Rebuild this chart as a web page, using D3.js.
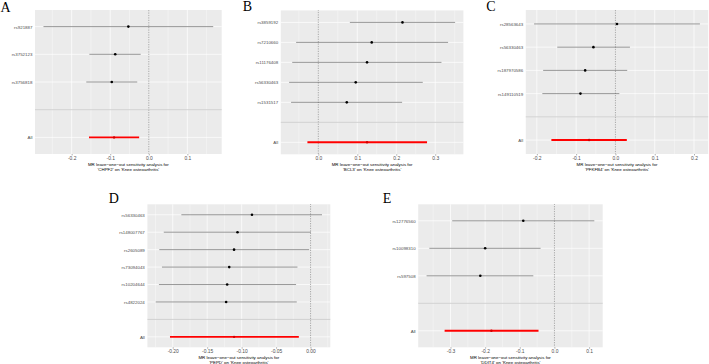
<!DOCTYPE html>
<html><head><meta charset="utf-8">
<script src="https://cdn.jsdelivr.net/npm/d3@7"></script>
<style>
html,body{margin:0;padding:0;background:#fff;}
svg{display:block;}
</style></head>
<body>
<svg id="chart" width="709" height="364"></svg>
<script>
// ---------------- DATA ----------------
const panelLetters = ["A", "B", "C", "D", "E"];
const exposures = ["CHPF2", "BCL3", "PFKFB4", "PEPD", "DDIT4"];
const outcomeName = "Knee osteoarthritis";

// Panel A
const snpsA = ["rs921887", "rs3752123", "rs3756818"];
const betaA = [-0.053, -0.087, -0.096];
const loA   = [-0.273, -0.154, -0.162];
const hiA   = [0.167, -0.021, -0.030];
const allA  = [-0.090, -0.155, -0.025];   // b, lo, up
const ticksA = [-0.2, -0.1, 0.0, 0.1];

// Panel B
const snpsB = ["rs3859192", "rs7210660", "rs11176408", "rs56330463", "rs1531517"];
const betaB = [0.216, 0.137, 0.125, 0.096, 0.073];
const loB   = [0.081, -0.057, -0.067, -0.075, -0.070];
const hiB   = [0.351, 0.333, 0.316, 0.268, 0.215];
const allB  = [0.125, -0.028, 0.279];
const ticksB = [0.0, 0.1, 0.2, 0.3];

// Panel C
const snpsC = ["rs28563643", "rs56330463", "rs187970586", "rs149110519"];
const betaC = [0.004, -0.056, -0.077, -0.089];
const loC   = [-0.207, -0.148, -0.184, -0.186];
const hiC   = [0.215, 0.037, 0.030, 0.010];
const allC  = [-0.067, -0.163, 0.029];
const ticksC = [-0.2, -0.1, 0.0, 0.1, 0.2];

// Panel D
const snpsD = ["rs56330463", "rs148007767", "rs2605089", "rs73094043", "rs10204644", "rs4822024"];
const betaD = [-0.085, -0.106, -0.111, -0.118, -0.121, -0.1225];
const loD   = [-0.1875, -0.213, -0.2195, -0.2156, -0.220, -0.2247];
const hiD   = [0.0166, 0.0005, -0.002, -0.019, -0.021, -0.020];
const allD  = [-0.111, -0.204, -0.017];
const ticksD = [-0.20, -0.15, -0.10, -0.05, 0.00];

// Panel E
const snpsE = ["rs12776560", "rs10098310", "rs597508"];
const betaE = [-0.090, -0.200, -0.214];
const loE   = [-0.295, -0.361, -0.369];
const hiE   = [0.115, -0.040, -0.061];
const allE  = [-0.182, -0.317, -0.046];
const ticksE = [-0.3, -0.2, -0.1, 0.0, 0.1];

// ---------------- LAYOUT ----------------
const layout = [
  {x0: 35,    x1: 221.7, y0: 10,    y1: 154,   lx: 0.5,   ly: 11.5},
  {x0: 280.8, x1: 463.4, y0: 10.4,  y1: 154.3, lx: 242.8, ly: 10.5},
  {x0: 525.8, x1: 708.2, y0: 10,    y1: 154,   lx: 486.2, ly: 10.5},
  {x0: 147.4, x1: 330.3, y0: 204.3, y1: 347.3, lx: 108.8, ly: 203.2},
  {x0: 418.2, x1: 602.7, y0: 204.3, y1: 347.3, lx: 382.8, ly: 203.2}
];

const panels = [
  {snps: snpsA, beta: betaA, lo: loA, hi: hiA, all: allA, ticks: ticksA},
  {snps: snpsB, beta: betaB, lo: loB, hi: hiB, all: allB, ticks: ticksB},
  {snps: snpsC, beta: betaC, lo: loC, hi: hiC, all: allC, ticks: ticksC},
  {snps: snpsD, beta: betaD, lo: loD, hi: hiD, all: allD, ticks: ticksD},
  {snps: snpsE, beta: betaE, lo: loE, hi: hiE, all: allE, ticks: ticksE}
];

const svg = d3.select("#chart");
const sans = "'Liberation Sans', Arial, Helvetica, sans-serif";

panels.forEach((p, i) => {
  const L = layout[i];
  const rows = p.snps.map((s, k) => ({snp: s, b: p.beta[k], lo: p.lo[k], up: p.hi[k], tot: 0}));
  rows.push({snp: "All", b: p.all[0], lo: p.all[1], up: p.all[2], tot: 1});

  const xmin = Math.min(0, d3.min(rows, d => d.lo));
  const xmax = Math.max(0, d3.max(rows, d => d.up));
  const pad = (xmax - xmin) * 0.05;
  const x = d3.scaleLinear().domain([xmin - pad, xmax + pad]).range([L.x0, L.x1]);

  const cats = [...p.snps, "", "All"];
  const y = d3.scalePoint().domain(cats).range([L.y0, L.y1]).padding(0.6);

  const g = svg.append("g");

  // panel background
  g.append("rect").attr("x", L.x0).attr("y", L.y0)
    .attr("width", L.x1 - L.x0).attr("height", L.y1 - L.y0).attr("fill", "#EBEBEB");

  // minor gridlines
  const step = p.ticks[1] - p.ticks[0];
  const minors = [];
  const tmin = p.ticks[0] - step / 2, tmax = p.ticks[p.ticks.length - 1] + step / 2;
  for (let v = tmin; v <= tmax + 1e-9; v += step) {
    if (v >= x.domain()[0] && v <= x.domain()[1]) minors.push(v);
  }
  g.selectAll(".minor").data(minors).join("line")
    .attr("x1", d => x(d)).attr("x2", d => x(d))
    .attr("y1", L.y0).attr("y2", L.y1)
    .attr("stroke", "#fff").attr("stroke-width", 0.35);

  // major gridlines (x)
  g.selectAll(".majx").data(p.ticks).join("line")
    .attr("x1", d => x(d)).attr("x2", d => x(d))
    .attr("y1", L.y0).attr("y2", L.y1)
    .attr("stroke", "#fff").attr("stroke-width", 0.7);
  // major gridlines (y)
  g.selectAll(".majy").data(cats).join("line")
    .attr("x1", L.x0).attr("x2", L.x1)
    .attr("y1", d => y(d)).attr("y2", d => y(d))
    .attr("stroke", "#fff").attr("stroke-width", 0.7);

  // dotted vline at 0
  g.append("line").attr("x1", x(0)).attr("x2", x(0))
    .attr("y1", L.y0).attr("y2", L.y1)
    .attr("stroke", "#333").attr("stroke-width", 0.5).attr("stroke-dasharray", "0.8,0.9");

  // error bars
  g.selectAll(".eb").data(rows).join("line")
    .attr("x1", d => x(d.lo)).attr("x2", d => x(d.up))
    .attr("y1", d => y(d.snp)).attr("y2", d => y(d.snp))
    .attr("stroke", d => d.tot ? "#FF0000" : "#555")
    .attr("stroke-width", d => d.tot ? 1.9 : 0.6);

  // points
  g.selectAll(".pt").data(rows).join("circle")
    .attr("cx", d => x(d.b)).attr("cy", d => y(d.snp))
    .attr("r", d => d.tot ? 1.2 : 1.3)
    .attr("fill", d => d.tot ? "#D00000" : "#000");

  // separator hline
  g.append("line").attr("x1", L.x0).attr("x2", L.x1)
    .attr("y1", y("")).attr("y2", y(""))
    .attr("stroke", "#BEBEBE").attr("stroke-width", 0.7);

  // x axis
  const dec = step < 0.1 - 1e-9 ? 2 : 1;
  const xAxis = d3.axisBottom(x).tickValues(p.ticks)
    .tickFormat(v => (Math.abs(v) < 1e-12 ? 0 : v).toFixed(dec))
    .tickSizeInner(1.4).tickSizeOuter(0).tickPadding(1);
  const gx = g.append("g").attr("transform", `translate(0,${L.y1})`).call(xAxis);
  gx.select(".domain").remove();
  gx.selectAll(".tick line").attr("stroke", "#333").attr("stroke-width", 0.4);
  gx.selectAll(".tick text").attr("fill", "#4D4D4D")
    .attr("font-family", sans).attr("font-size", 4.9);

  // y axis
  const yAxis = d3.axisLeft(y).tickSize(0).tickPadding(2.6);
  const gy = g.append("g").attr("transform", `translate(${L.x0},0)`).call(yAxis);
  gy.select(".domain").remove();
  gy.selectAll(".tick text").attr("fill", "#4D4D4D")
    .attr("font-family", sans).attr("font-size", 4.4);

  // axis title
  const cx = (L.x0 + L.x1) / 2;
  const t = g.append("text").attr("text-anchor", "middle")
    .attr("font-family", sans).attr("font-size", 4.4).attr("fill", "#000");
  t.append("tspan").attr("x", cx).attr("y", L.y1 + 11.8)
    .text("MR leave\u2212one\u2212out sensitivity analysis for");
  t.append("tspan").attr("x", cx).attr("y", L.y1 + 16.7)
    .text(`'${exposures[i]}' on '${outcomeName}'`);

  // panel letter
  svg.append("text").attr("x", L.lx).attr("y", L.ly)
    .attr("font-family", "'Liberation Serif', 'Times New Roman', serif")
    .attr("font-size", 14).attr("fill", "#000").text(panelLetters[i]);
});
</script>
</body></html>
